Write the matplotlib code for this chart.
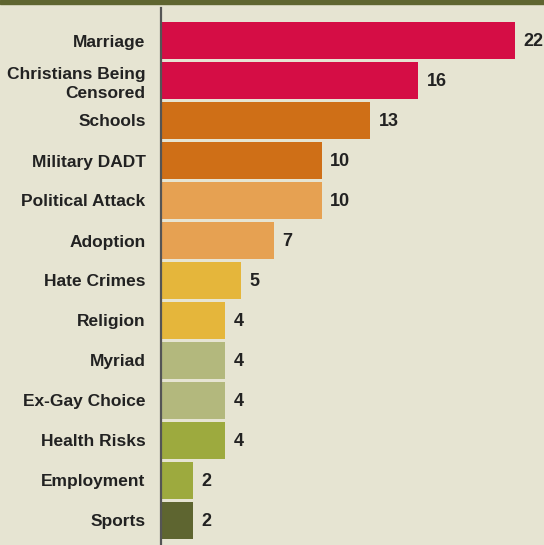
import matplotlib.pyplot as plt
from matplotlib.patches import Rectangle

# topics and counts, top to bottom
topics = ["Marriage", "Christians Being\nCensored", "Schools", "Military DADT",
          "Political Attack", "Adoption", "Hate Crimes", "Religion", "Myriad",
          "Ex-Gay Choice", "Health Risks", "Employment", "Sports"]
counts = [22, 16, 13, 10, 10, 7, 5, 4, 4, 4, 4, 2, 2]
bar_colors = ["#D50D45", "#D50D45", "#CF6F17", "#CF6F17", "#E6A152", "#E6A152",
              "#E5B63B", "#E5B63B", "#B3B87D", "#B3B87D", "#9DAA3E", "#9DAA3E",
              "#5E6530"]

bg = "#E6E4D2"
ink = "#222222"

fig = plt.figure(figsize=(5.44, 5.45), dpi=100, facecolor=bg)
ax = fig.add_axes([161 / 544, 0, 383 / 544, 537 / 545])
ax.set_facecolor(bg)

ypos = list(range(len(topics)))
ax.barh(ypos, counts, height=0.92, color=bar_colors, edgecolor="none")

ax.set_xlim(0, 383 / 16.09)
ax.set_ylim(len(topics) - 0.3875, -0.8125)

for y, v in zip(ypos, counts):
    ax.annotate(str(v), (v, y), xytext=(6, -1), textcoords="offset points",
                ha="left", va="center", fontsize=13, fontweight="bold",
                color=ink, family="Liberation Sans")

ax.set_yticks(ypos)
ax.set_yticklabels(topics, fontsize=12.5, fontweight="bold", color=ink,
                   family="Liberation Sans", linespacing=1.3)
ax.tick_params(axis="y", length=0, pad=11)
ax.set_xticks([])

for side in ["top", "right", "bottom"]:
    ax.spines[side].set_visible(False)
ax.spines["left"].set_color("#555555")
ax.spines["left"].set_linewidth(1.6)

# dark band along the top edge
fig.patches.append(Rectangle((0, 1 - 4 / 545), 1, 4 / 545,
                             transform=fig.transFigure, color="#5F6530"))

fig.savefig("out.png", dpi=100, facecolor=bg)
